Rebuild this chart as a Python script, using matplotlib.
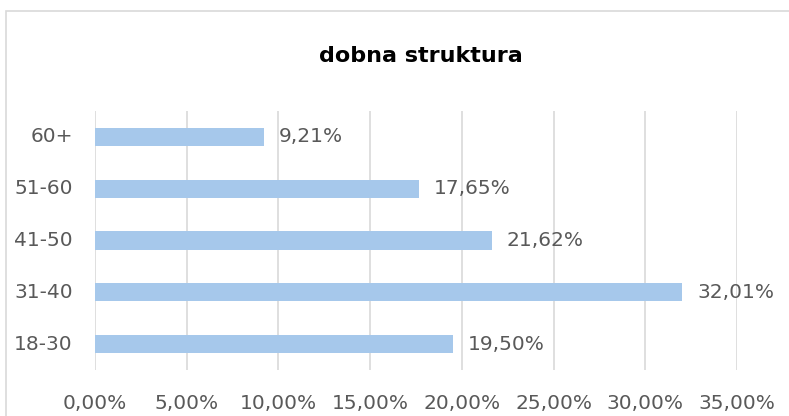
import matplotlib
matplotlib.use("Agg")
import matplotlib.pyplot as plt
from matplotlib.patches import Rectangle
from matplotlib.ticker import FuncFormatter

categories = ["18-30", "31-40", "41-50", "51-60", "60+"]
values = [19.50, 32.01, 21.62, 17.65, 9.21]
xticks = [0, 5, 10, 15, 20, 25, 30, 35]

plt.rcParams["font.family"] = ["DejaVu Sans"]
txt = "#595959"

fig = plt.figure(figsize=(7.89, 4.16), dpi=100)
ax = fig.add_axes([0.1204, 0.1106, 0.8137, 0.6226])

ax.barh(range(len(categories)), values, height=0.35, color="#a6c8eb", zorder=3)
for i, v in enumerate(values):
    ax.annotate(("%.2f%%" % v).replace(".", ","), (v, i), xytext=(11, 0),
                textcoords="offset points", va="center", ha="left",
                fontsize=14.5, color=txt)

ax.set_xlim(0, 35)
ax.set_ylim(-0.5, 4.5)
ax.set_xticks(xticks)
ax.xaxis.set_major_formatter(FuncFormatter(lambda x, p: ("%.2f%%" % x).replace(".", ",")))
ax.set_yticks(range(len(categories)))
ax.set_yticklabels(categories, va="center")
ax.tick_params(axis="both", length=0, labelsize=14.5, colors=txt)
ax.tick_params(axis="x", pad=17)
ax.tick_params(axis="y", pad=16)
ax.grid(axis="x", color="#d9d9d9", linewidth=1.2, zorder=0)
for s in ax.spines.values():
    s.set_visible(False)

fig.text(0.533, 0.865, "dobna struktura", ha="center", va="center",
         fontsize=16, fontweight="bold", color="black")

fig.patches.append(Rectangle((6 / 789, -0.05), 1.0, 1 - 11 / 416 + 0.05,
                             transform=fig.transFigure, fill=False,
                             edgecolor="#d9d9d9", linewidth=1.2))

plt.savefig("out.png", dpi=100)
